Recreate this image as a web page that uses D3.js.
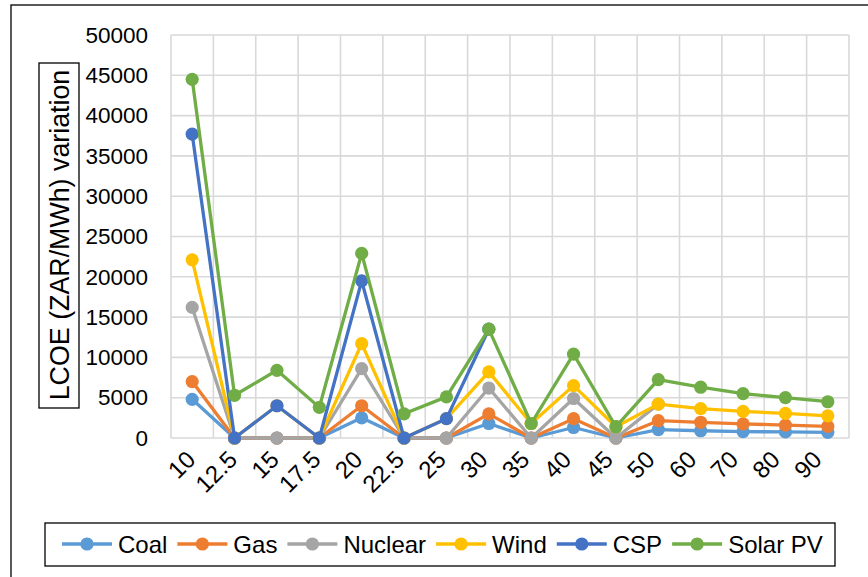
<!DOCTYPE html>
<html><head><meta charset="utf-8">
<script src="https://cdn.jsdelivr.net/npm/d3@7"></script>
<style>body{margin:0;background:#fff}svg{display:block}</style>
</head><body>
<svg id="c" width="868" height="577"></svg>
<script>
const categories = ["10","12.5","15","17.5","20","22.5","25","30","35","40","45","50","60","70","80","90"];
const coal    = [4800,0,0,0,2500,0,0,1800,0,1300,0,1050,900,800,750,700];
const gas     = [7000,0,0,0,4000,0,0,3000,0,2400,0,2150,1950,1750,1600,1450];
const nuclear = [16200,0,0,0,8600,0,0,6200,0,4900,0,4200,null,null,null,null];
const wind    = [22100,0,4000,0,11700,0,2400,8200,1800,6500,1400,4200,3650,3300,3050,2750];
const csp     = [37700,0,4000,0,19500,0,2400,13500,null,null,null,null,null,null,null,null];
const solarPV = [44500,5300,8400,3800,22900,3000,5100,13500,1800,10400,1400,7250,6300,5500,5000,4500];
const yTicks  = [0,5000,10000,15000,20000,25000,30000,35000,40000,45000,50000];
const seriesNames = ["Coal","Gas","Nuclear","Wind","CSP","Solar PV"];
const seriesValues = [coal,gas,nuclear,wind,csp,solarPV];
const seriesColors = ["#5B9BD5","#ED7D31","#A5A5A5","#FFC000","#4472C4","#70AD47"];

const FONT = "'Liberation Sans', Arial, sans-serif";
const svg = d3.select("#c");
const L = 171, R = 849, T = 35, B = 438;

// outer frame (left and top visible)
svg.append("rect").attr("x",11).attr("y",5).attr("width",900).attr("height",600)
  .attr("fill","none").attr("stroke","#000").attr("stroke-width",1.3);

const x = d3.scaleBand().domain(categories).range([L,R]);
const xLab = d3.scaleBand().domain(categories).range([L,R-10]);
const y = d3.scaleLinear().domain([0,50000]).range([B,T]);
const cx = c => x(c) + x.bandwidth()/2;

const grid = svg.append("g").attr("stroke","#d9d9d9").attr("stroke-width",1.6);
yTicks.forEach(t => grid.append("line").attr("x1",L).attr("x2",R).attr("y1",y(t)).attr("y2",y(t)));
categories.forEach(c => grid.append("line").attr("x1",x(c)).attr("x2",x(c)).attr("y1",T).attr("y2",B));
grid.append("line").attr("x1",R).attr("x2",R).attr("y1",T).attr("y2",B);

// y axis
const ya = svg.append("g").attr("transform",`translate(${L},0)`)
  .call(d3.axisLeft(y).tickValues(yTicks).tickSize(0).tickPadding(23).tickFormat(d3.format("d")));
ya.select(".domain").remove();
ya.selectAll("text").attr("font-family",FONT).attr("font-size",22.5).attr("fill","#000");

// x axis
const xa = svg.append("g").attr("transform",`translate(0,${B})`)
  .call(d3.axisBottom(xLab).tickSize(0));
xa.select(".domain").remove();
xa.selectAll("text").attr("font-family",FONT).attr("font-size",24).attr("fill","#000")
  .attr("text-anchor","end").attr("dy",null).attr("y",null)
  .attr("transform","translate(5,23) rotate(-45)");

// series
const line = d3.line().defined(d => d.v !== null).x(d => cx(d.c)).y(d => y(d.v));
seriesValues.forEach((vals,i) => {
  const pts = categories.map((c,j) => ({c, v: vals[j]}));
  const g = svg.append("g");
  g.append("path").attr("d", line(pts)).attr("fill","none")
    .attr("stroke",seriesColors[i]).attr("stroke-width",3.3).attr("stroke-linejoin","round");
  g.selectAll("circle").data(pts.filter(d => d.v !== null)).join("circle")
    .attr("cx", d => cx(d.c)).attr("cy", d => y(d.v)).attr("r",6.6).attr("fill",seriesColors[i]);
});

// y title
svg.append("rect").attr("x",39).attr("y",63).attr("width",40).attr("height",345)
  .attr("fill","#fff").attr("stroke","#000").attr("stroke-width",1.3);
svg.append("text").attr("transform","translate(68.5,235) rotate(-90)")
  .attr("text-anchor","middle").attr("font-family",FONT).attr("font-size",26.8).attr("fill","#000")
  .text("LCOE (ZAR/MWh) variation");

// legend
svg.append("rect").attr("x",45).attr("y",523).attr("width",790).attr("height",43)
  .attr("fill","#fff").attr("stroke","#000").attr("stroke-width",1.3);
const lg = svg.append("g");
let lx = 62; const ly = 544;
seriesNames.forEach((n,i) => {
  lg.append("line").attr("x1",lx).attr("x2",lx+50).attr("y1",ly).attr("y2",ly)
    .attr("stroke",seriesColors[i]).attr("stroke-width",3.3);
  lg.append("circle").attr("cx",lx+25).attr("cy",ly).attr("r",6.6).attr("fill",seriesColors[i]);
  const t = lg.append("text").attr("x",lx+56).attr("y",ly).attr("dy","0.36em")
    .attr("font-family",FONT).attr("font-size",24).attr("fill","#000").text(n);
  lx = lx + 56 + t.node().getComputedTextLength() + 10;
});
</script>
</body></html>
